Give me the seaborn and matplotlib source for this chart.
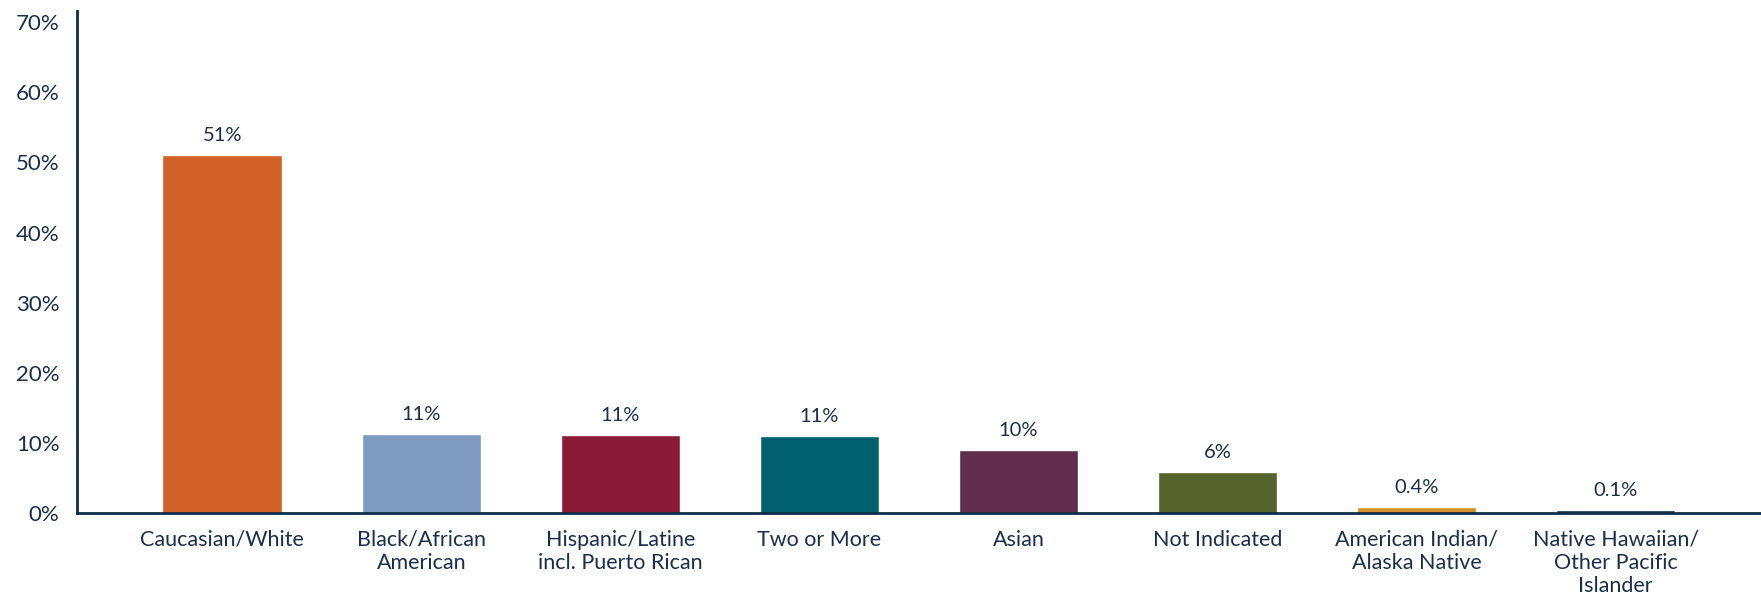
import matplotlib
matplotlib.use("Agg")
import matplotlib.pyplot as plt
from matplotlib.ticker import FuncFormatter
import seaborn as sns
import pandas as pd

# data
categories = [
    "Caucasian/White",
    "Black/African\nAmerican",
    "Hispanic/Latine\nincl. Puerto Rican",
    "Two or More",
    "Asian",
    "Not Indicated",
    "American Indian/\nAlaska Native",
    "Native Hawaiian/\nOther Pacific\nIslander",
]
shares = [51.0, 11.2, 11.1, 11.0, 9.0, 5.8, 0.8, 0.4]
value_labels = ["51%", "11%", "11%", "11%", "10%", "6%", "0.4%", "0.1%"]
bar_colors = ["#D26128", "#7E9CC2", "#8B1A36", "#00606E",
              "#612D4E", "#56632D", "#D28F2A", "#0F2C4B"]

TEXT = "#1B2F4A"
AXIS = "#0F2C4B"

sns.set_style("white")
plt.rcParams["font.family"] = ["Lato", "DejaVu Sans"]

df = pd.DataFrame({"group": categories, "share": shares})

fig = plt.figure(figsize=(17.61, 6.01), dpi=100)
ax = fig.add_axes([0.044, 0.1464, 0.956, 0.8353])

sns.barplot(data=df, x="group", y="share", hue="group", palette=bar_colors,
            width=0.6, saturation=1, legend=False, ax=ax)

for i, (v, lab) in enumerate(zip(shares, value_labels)):
    ax.annotate(lab, (i, v), xytext=(0, 8), textcoords="offset points",
                ha="center", va="bottom", fontsize=14.5, color=TEXT)

ax.set_xlim(-0.727, 7.73)
ax.set_ylim(0, 71.6)
ax.set_yticks(range(0, 71, 10))
ax.yaxis.set_major_formatter(FuncFormatter(lambda v, _: f"{int(v)}%"))
ax.set_xlabel("")
ax.set_ylabel("")

ax.tick_params(axis="both", length=0, colors=TEXT)
ax.tick_params(axis="y", labelsize=16, pad=13)
ax.tick_params(axis="x", labelsize=15.5, pad=12)
for t in ax.get_xticklabels():
    t.set_linespacing(1.2)

sns.despine(ax=ax, top=True, right=True)
for side in ("left", "bottom"):
    ax.spines[side].set_color(AXIS)
    ax.spines[side].set_linewidth(2)

fig.savefig("out.png", dpi=100)
